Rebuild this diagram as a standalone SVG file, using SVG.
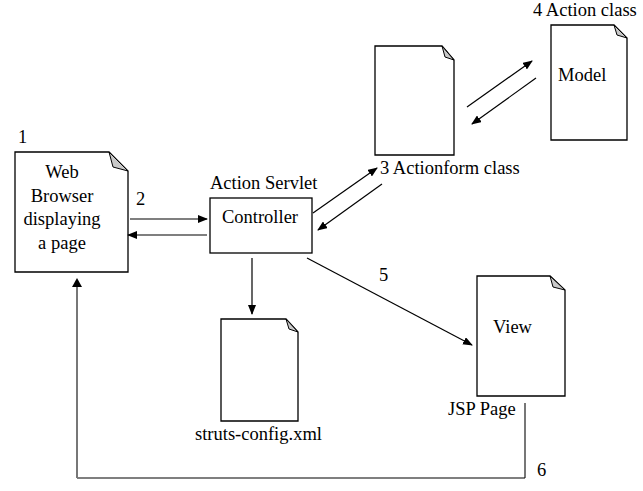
<svg xmlns="http://www.w3.org/2000/svg" width="643" height="491" viewBox="0 0 643 491">
<style>
.doc{fill:#fff;stroke:#000;stroke-width:1.3}
.fold{fill:#c8c8c8;stroke:#000;stroke-width:1}
.c{stroke:#000;stroke-width:1.2;fill:none}
.g{stroke:#777;stroke-width:2;fill:none}
</style>
<defs>
<marker id="ah" markerWidth="10" markerHeight="8" refX="9" refY="4" orient="auto" markerUnits="userSpaceOnUse">
<path d="M0,0 L10,4 L0,8 Z" fill="#000"/>
</marker>
</defs>
<rect width="643" height="491" fill="#fff"/>
<g font-family="'Liberation Serif', 'Times New Roman', serif" font-size="18.5" fill="#000">
<g id="browser">
<path class="doc" d="M15,152 H109 L128,171 V272 H15 Z"/>
<path class="fold" d="M109,152 L128,171 L113,167 Z"/>
<text x="18" y="143">1</text>
<text x="62" y="178" text-anchor="middle">Web</text>
<text x="62" y="202" text-anchor="middle">Browser</text>
<text x="62" y="225" text-anchor="middle">displaying</text>
<text x="62" y="249" text-anchor="middle">a page</text>
</g>
<g id="controller">
<rect class="doc" x="210" y="198" width="102" height="55"/>
<text x="210" y="189">Action Servlet</text>
<text x="260" y="223" text-anchor="middle">Controller</text>
</g>
<g id="actionform">
<path class="doc" d="M375,46 H442 L454,60 V155 H375 Z"/>
<path class="fold" d="M442,46 L454,60 L445,57 Z"/>
<text x="380" y="174">3 Actionform class</text>
</g>
<g id="model">
<path class="doc" d="M551,25 H614 L627,38 V140 H551 Z"/>
<path class="fold" d="M614,25 L627,38 L617,35 Z"/>
<text x="533" y="16">4 Action class</text>
<text x="558" y="81">Model</text>
</g>
<g id="struts">
<path class="doc" d="M221,319 H286 L298,332 V421 H221 Z"/>
<path class="fold" d="M286,319 L298,332 L289,329 Z"/>
<text x="195" y="440">struts-config.xml</text>
</g>
<g id="view">
<path class="doc" d="M477,276 H550 L565,290 V396 H477 Z"/>
<path class="fold" d="M550,276 L565,290 L553,287 Z"/>
<text x="493" y="333">View</text>
<text x="448" y="415">JSP Page</text>
</g>
<g id="connectors">
<line class="c" x1="130" y1="219" x2="207" y2="219" marker-end="url(#ah)"/>
<line class="c" x1="207" y1="235" x2="128" y2="235" marker-end="url(#ah)"/>
<text x="136" y="205">2</text>
<line class="c" x1="313" y1="213" x2="377" y2="168" marker-end="url(#ah)"/>
<line class="c" x1="382" y1="184" x2="318" y2="230" marker-end="url(#ah)"/>
<line class="c" x1="467" y1="107" x2="532" y2="61" marker-end="url(#ah)"/>
<line class="c" x1="536" y1="78" x2="472" y2="124" marker-end="url(#ah)"/>
<line class="c" x1="252" y1="258" x2="252" y2="314" marker-end="url(#ah)"/>
<line class="c" x1="307" y1="258" x2="472" y2="345" marker-end="url(#ah)"/>
<text x="379" y="281">5</text>
<path class="g" d="M525,403 V478"/>
<path class="c" d="M525,478 H77"/>
<line class="g" x1="77" y1="478" x2="77" y2="282"/>
<path d="M72,287 L77,278 L82,287 Z" fill="#000"/>
<text x="537" y="476">6</text>
</g>
</g>
</svg>
